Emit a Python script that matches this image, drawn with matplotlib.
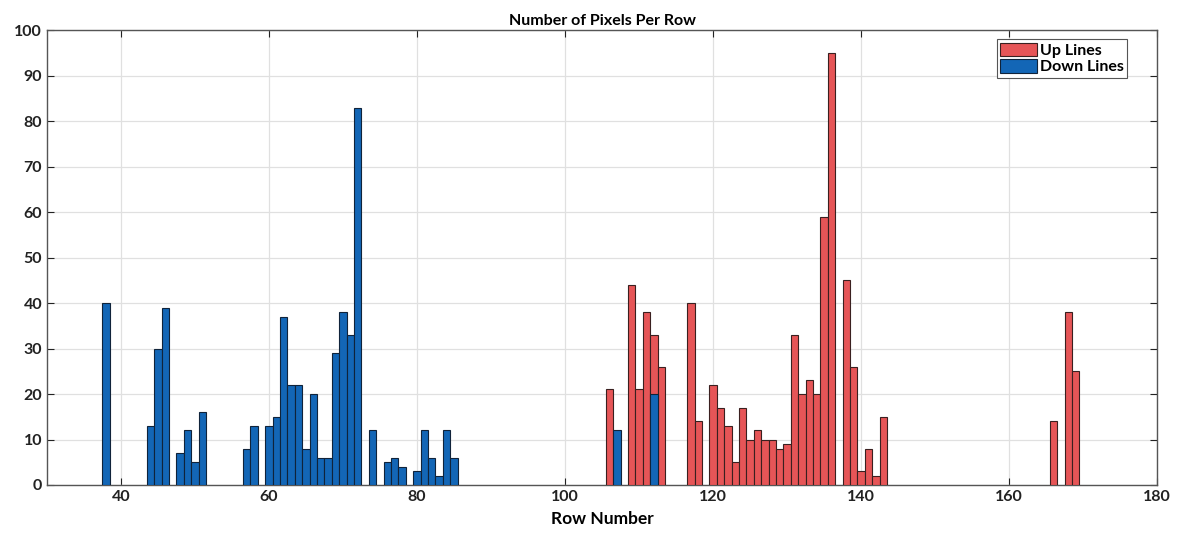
import numpy as np
import matplotlib
matplotlib.use("Agg")
import matplotlib.pyplot as plt

plt.rcParams['font.family'] = ['Lato', 'DejaVu Sans']

# row number -> pixel count
up_rows = [106, 109, 110, 111, 112, 113, 117, 118, 120, 121, 122, 123, 124,
           125, 126, 127, 128, 129, 130, 131, 132, 133, 134, 135, 136, 138,
           139, 140, 141, 142, 143, 166, 168, 169]
up_counts = [21, 44, 21, 38, 33, 26, 40, 14, 22, 17, 13, 5, 17,
             10, 12, 10, 10, 8, 9, 33, 20, 23, 20, 59, 95, 45,
             26, 3, 8, 2, 15, 14, 38, 25]

down_rows = [38, 44, 45, 46, 48, 49, 50, 51, 57, 58, 60, 61, 62, 63, 64, 65,
             66, 67, 68, 69, 70, 71, 72, 74, 76, 77, 78, 80, 81, 82, 83, 84,
             85, 107, 112]
down_counts = [40, 13, 30, 39, 7, 12, 5, 16, 8, 13, 13, 15, 37, 22, 22, 8,
               20, 6, 6, 29, 38, 33, 83, 12, 5, 6, 4, 3, 12, 6, 2, 12,
               6, 12, 20]

x_ticks = [40, 60, 80, 100, 120, 140, 160, 180]
y_ticks = list(range(0, 101, 10))

fig = plt.figure(figsize=(11.86, 5.35), dpi=100)
ax = fig.add_axes([0.0396, 0.0935, 0.936, 0.850])

ax.bar(up_rows, up_counts, width=1.0, color='#E65557', edgecolor='#3a2020',
       linewidth=0.8, label='Up Lines', zorder=3)
ax.bar(down_rows, down_counts, width=1.0, color='#1366B6', edgecolor='#10233a',
       linewidth=0.8, label='Down Lines', zorder=4)

ax.set_xlim(30, 180)
ax.set_ylim(0, 100)
ax.set_xticks(x_ticks)
ax.set_yticks(y_ticks)
ax.tick_params(direction='in', length=5, labelsize=11.5, colors='#222222')
for lab in ax.get_xticklabels() + ax.get_yticklabels():
    lab.set_fontweight('bold')
ax.tick_params(top=True, right=True)
ax.grid(True, color='#e0e0e0', linewidth=0.9, zorder=0)
ax.set_axisbelow(True)
for s in ax.spines.values():
    s.set_color('#555555')
    s.set_linewidth(1.0)

ax.set_title('Number of Pixels Per Row', fontsize=11.5, fontweight='bold', pad=4)
ax.set_xlabel('Row Number', fontsize=12.5, fontweight='bold', labelpad=5)

leg = ax.legend(loc='upper right', bbox_to_anchor=(0.973, 0.98),
                prop={'weight': 'bold', 'size': 11.5},
                fancybox=False, edgecolor='#555555', framealpha=1,
                handlelength=2.3, handleheight=0.9, borderpad=0.2,
                labelspacing=0.1, handletextpad=0.2, borderaxespad=0.0)
leg.get_frame().set_linewidth(0.8)

fig.savefig('out.png', dpi=100)
